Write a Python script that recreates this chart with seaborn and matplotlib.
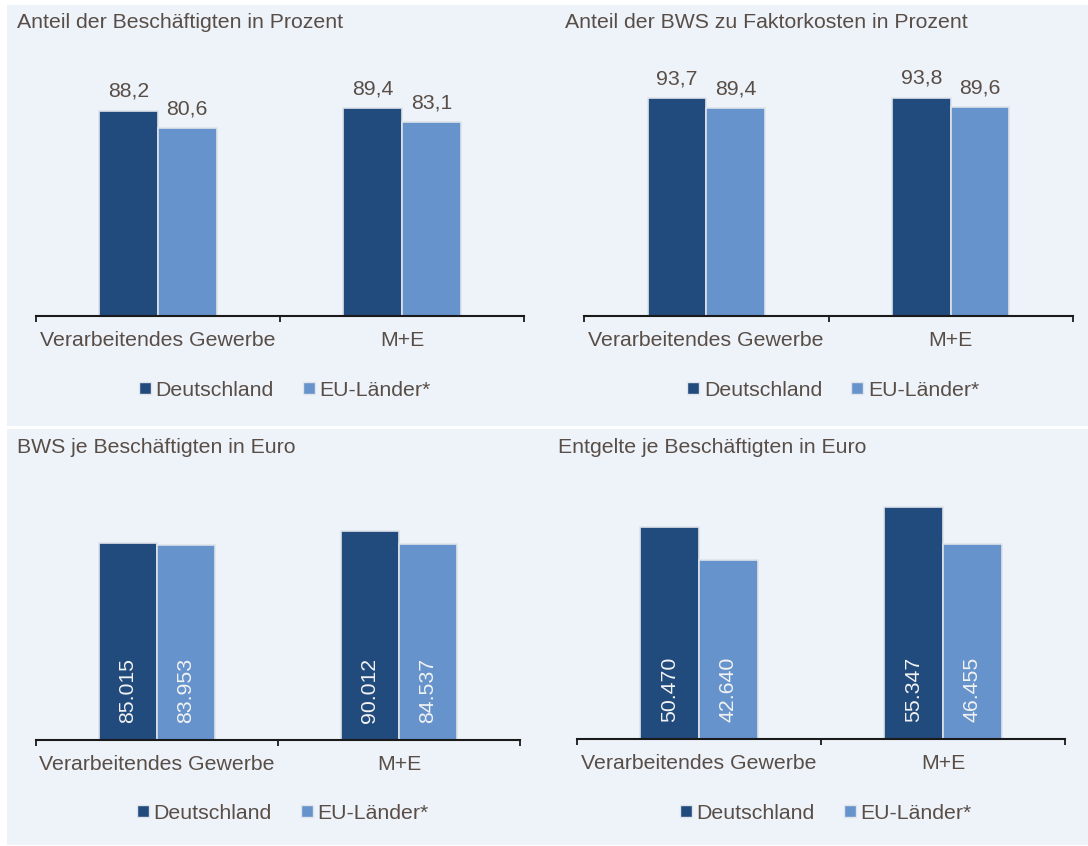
import matplotlib
matplotlib.use("Agg")
import matplotlib.pyplot as plt
import seaborn as sns
import pandas as pd
from matplotlib.patches import Rectangle
from matplotlib.lines import Line2D

# --- data -------------------------------------------------------------
categories = ["Verarbeitendes Gewerbe", "M+E"]
series = ["Deutschland", "EU-Länder*"]

anteil_beschaeftigte_de = [88.2, 89.4]
anteil_beschaeftigte_eu = [80.6, 83.1]

anteil_bws_de = [93.7, 93.8]
anteil_bws_eu = [89.4, 89.6]

bws_je_beschaeftigten_de = [85015, 90012]
bws_je_beschaeftigten_eu = [83953, 84537]

entgelte_je_beschaeftigten_de = [50470, 55347]
entgelte_je_beschaeftigten_eu = [42640, 46455]

titles = [
    "Anteil der Beschäftigten in Prozent",
    "Anteil der BWS zu Faktorkosten in Prozent",
    "BWS je Beschäftigten in Euro",
    "Entgelte je Beschäftigten in Euro",
]

# --- style ------------------------------------------------------------
sns.set_style("white")
plt.rcParams["font.family"] = ["Liberation Sans", "DejaVu Sans"]

DARK = "#214a7d"
LIGHT = "#6693cc"
TEXT = "#584e47"
PANEL_BG = "#eef3fa"
EDGE = "#dfe3ea"
FS = 15.3

W, H = 1088, 846
fig = plt.figure(figsize=(W / 100, H / 100), dpi=100)
fig.patch.set_facecolor("white")

# two light background bands, separated by a thin white gap
for y0, y1 in [(5, 426), (429, 845)]:
    fig.patches.append(Rectangle((7 / W, 1 - y1 / H), (W - 7) / W, (y1 - y0) / H,
                                 transform=fig.transFigure, facecolor=PANEL_BG,
                                 edgecolor="none", zorder=-5))


def fmt_decimal(v):
    return f"{v:.1f}".replace(".", ",")


def fmt_thousands(v):
    return f"{v:,.0f}".replace(",", ".")


panels = [
    # title, title pos (px), axes box (x0, x1, base, top), ymax, de, eu, label style, legend y
    (titles[0], (17, 22), (36, 524, 316, 60), 109.9,
     anteil_beschaeftigte_de, anteil_beschaeftigte_eu, "above", 390),
    (titles[1], (565, 22), (584, 1073, 316, 60), 109.9,
     anteil_bws_de, anteil_bws_eu, "above", 390),
    (titles[2], (17, 447), (36, 520, 740, 500), 103500,
     bws_je_beschaeftigten_de, bws_je_beschaeftigten_eu, "inside", 813),
    (titles[3], (558, 447), (577, 1065, 739, 479), 61900,
     entgelte_je_beschaeftigten_de, entgelte_je_beschaeftigten_eu, "inside", 813),
]

for title, (tx, ty), (x0, x1, yb, yt), ymax, de, eu, style, ly in panels:
    ax = fig.add_axes([x0 / W, 1 - yb / H, (x1 - x0) / W, (yb - yt) / H])
    ax.set_facecolor("none")

    df = pd.DataFrame({
        "Kategorie": categories * 2,
        "Region": [series[0]] * 2 + [series[1]] * 2,
        "Wert": list(de) + list(eu),
    })
    sns.barplot(data=df, x="Kategorie", y="Wert", hue="Region",
                order=categories, hue_order=series,
                palette=[DARK, LIGHT], saturation=1, width=0.48,
                edgecolor=EDGE, linewidth=1.2, ax=ax, legend=False,
                errorbar=None)

    # value labels
    for cont, vals in zip(ax.containers, [de, eu]):
        for bar, v in zip(cont, vals):
            cx = bar.get_x() + bar.get_width() / 2
            if style == "above":
                ax.annotate(fmt_decimal(v), (cx, bar.get_height()),
                            xytext=(0, 7), textcoords="offset points",
                            ha="center", va="bottom", fontsize=FS, color=TEXT)
            else:
                ax.annotate(fmt_thousands(v), (cx, 0),
                            xytext=(0, 12), textcoords="offset points",
                            ha="center", va="bottom", rotation=90,
                            fontsize=FS, color="#f2f2f2")

    ax.set_xlim(-0.5, 1.5)
    ax.set_ylim(0, ymax)
    ax.set_xlabel("")
    ax.set_ylabel("")
    ax.set_yticks([])
    ax.set_xticks([0, 1])
    ax.set_xticklabels(categories, fontsize=FS, color=TEXT)
    ax.set_xticks([-0.5, 0.5, 1.5], minor=True)
    ax.tick_params(axis="x", which="major", length=0, pad=11)
    ax.tick_params(axis="x", which="minor", length=4.5, width=1.3,
                   direction="out", color="#1a1a1a", bottom=True)
    for side in ["left", "right", "top"]:
        ax.spines[side].set_visible(False)
    ax.spines["bottom"].set_color("#1a1a1a")
    ax.spines["bottom"].set_linewidth(1.5)

    fig.text(tx / W, 1 - ty / H, title, ha="left", va="center",
             fontsize=FS, color=TEXT)

    handles = [Line2D([], [], marker="s", linestyle="none", markersize=8,
                      markerfacecolor=c, markeredgecolor=EDGE,
                      markeredgewidth=1.0, label=s)
               for c, s in zip([DARK, LIGHT], series)]
    fig.legend(handles=handles, loc="center",
               bbox_to_anchor=(((x0 + x1) / 2 + 4) / W, 1 - ly / H),
               ncol=2, frameon=False, fontsize=FS, labelcolor=TEXT,
               handlelength=0.7, handletextpad=0.15, columnspacing=1.3,
               borderaxespad=0, borderpad=0)

fig.savefig("out.png", dpi=100, facecolor="white")
